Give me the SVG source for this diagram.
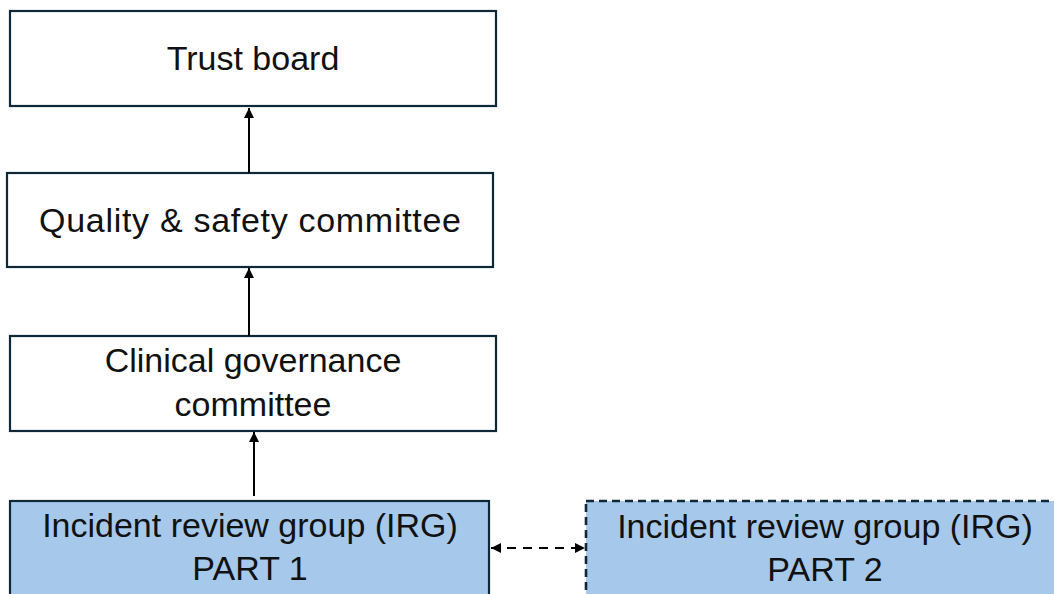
<svg xmlns="http://www.w3.org/2000/svg" width="1054" height="594" viewBox="0 0 1054 594">
<style>
.box{fill:#ffffff;stroke:#0E2838;stroke-width:2.2}
.irg{fill:#A6C9EB;stroke:#0E2838;stroke-width:2.2}
.dash{stroke-width:2.6;stroke-dasharray:8 5}
.lbl{font-family:"Liberation Sans",Arial,sans-serif;font-size:34px;fill:#111111;text-anchor:middle}
.conn{stroke:#000000;stroke-width:2;fill:none}
</style>
<defs>
<marker id="ah" viewBox="0 0 10 10" refX="10" refY="5" markerWidth="11" markerHeight="10" markerUnits="userSpaceOnUse" orient="auto-start-reverse">
<path d="M0,0 L10,5 L0,10 Z" fill="#000000"/>
</marker>
</defs>
<rect width="1054" height="594" fill="#ffffff"/>
<g id="trust-board">
<rect class="box" x="10" y="11" width="486" height="95"/>
<text class="lbl" x="253" y="70">Trust board</text>
</g>
<g id="quality-safety">
<rect class="box" x="7" y="173" width="486" height="94"/>
<text class="lbl" x="250" y="232" textLength="422" lengthAdjust="spacing">Quality &amp; safety committee</text>
</g>
<g id="clinical-governance">
<rect class="box" x="10" y="336" width="486" height="95"/>
<text class="lbl" x="253" y="372">Clinical governance</text>
<text class="lbl" x="253" y="416">committee</text>
</g>
<g id="irg-part1">
<rect class="irg" x="10" y="501" width="479" height="120"/>
<text class="lbl" x="250" y="537">Incident review group (IRG)</text>
<text class="lbl" x="250" y="580">PART 1</text>
</g>
<g id="irg-part2">
<rect class="irg dash" x="586" y="501" width="490" height="120"/>
<text class="lbl" x="825" y="538">Incident review group (IRG)</text>
<text class="lbl" x="825" y="581">PART 2</text>
</g>
<g id="connectors">
<line class="conn" x1="249" y1="173" x2="249" y2="108" marker-end="url(#ah)"/>
<line class="conn" x1="249" y1="336" x2="249" y2="268" marker-end="url(#ah)"/>
<line class="conn" x1="254" y1="496" x2="254" y2="432" marker-end="url(#ah)"/>
<line class="conn" x1="491" y1="548" x2="585" y2="548" stroke-dasharray="9 7" marker-start="url(#ah)" marker-end="url(#ah)"/>
</g>
</svg>
